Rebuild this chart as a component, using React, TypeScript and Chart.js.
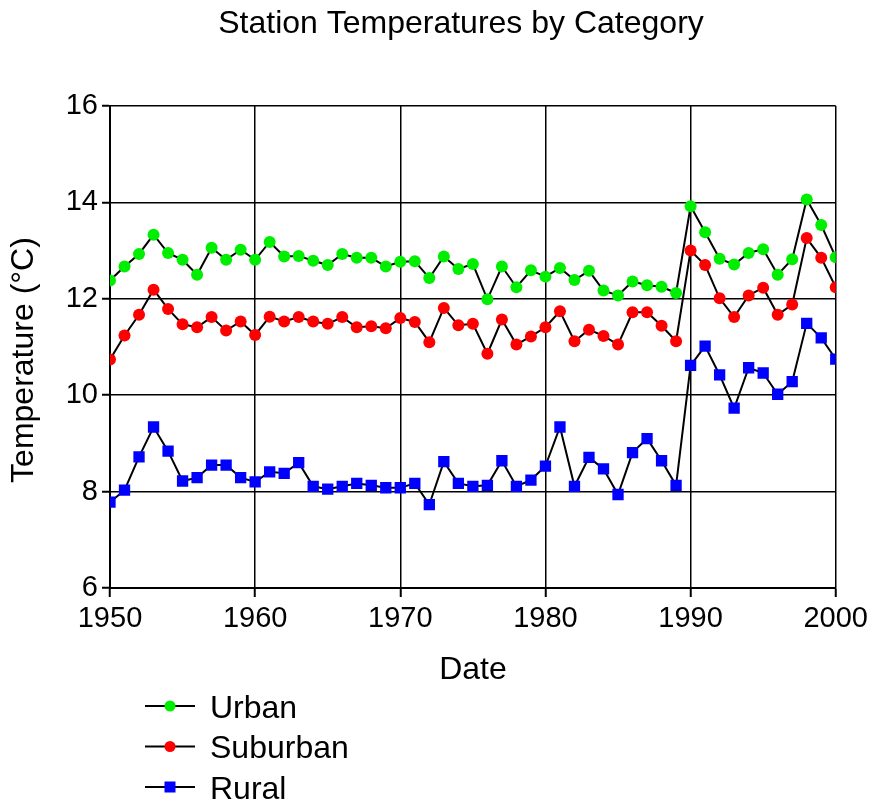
import React, { useEffect, useRef } from "react";
import { Chart, registerables } from "chart.js";

Chart.register(...registerables);

const years = [
  1950, 1951, 1952, 1953, 1954, 1955, 1956, 1957, 1958, 1959,
  1960, 1961, 1962, 1963, 1964, 1965, 1966, 1967, 1968, 1969,
  1970, 1971, 1972, 1973, 1974, 1975, 1976, 1977, 1978, 1979,
  1980, 1981, 1982, 1983, 1984, 1985, 1986, 1987, 1988, 1989,
  1990, 1991, 1992, 1993, 1994, 1995, 1996, 1997, 1998, 1999, 2000,
];

const urban = [
  12.38, 12.67, 12.93, 13.33, 12.95, 12.81, 12.5, 13.06, 12.81, 13.02,
  12.81, 13.18, 12.88, 12.89, 12.79, 12.7, 12.93, 12.85, 12.85, 12.67,
  12.77, 12.78, 12.43, 12.88, 12.62, 12.72, 11.99, 12.67, 12.24, 12.59,
  12.46, 12.64, 12.39, 12.58, 12.17, 12.07, 12.36, 12.28, 12.25, 12.12,
  13.92, 13.38, 12.83, 12.71, 12.95, 13.03, 12.5, 12.82, 14.06, 13.53, 12.86,
];

const suburban = [
  10.74, 11.24, 11.67, 12.19, 11.79, 11.47, 11.41, 11.62, 11.34, 11.53,
  11.25, 11.63, 11.53, 11.62, 11.53, 11.48, 11.62, 11.41, 11.43, 11.39,
  11.6, 11.52, 11.1, 11.81, 11.45, 11.48, 10.86, 11.57, 11.05, 11.22,
  11.41, 11.74, 11.12, 11.36, 11.23, 11.05, 11.72, 11.72, 11.44, 11.12,
  13.0, 12.7, 12.01, 11.62, 12.07, 12.23, 11.67, 11.88, 13.26, 12.85, 12.24,
];

const rural = [
  7.78, 8.03, 8.72, 9.34, 8.84, 8.22, 8.29, 8.55, 8.55, 8.29,
  8.2, 8.41, 8.38, 8.6, 8.11, 8.05, 8.11, 8.17, 8.13, 8.08,
  8.08, 8.17, 7.73, 8.62, 8.17, 8.11, 8.13, 8.64, 8.11, 8.24,
  8.53, 9.34, 8.11, 8.71, 8.47, 7.94, 8.81, 9.1, 8.64, 8.13,
  10.62, 11.02, 10.42, 9.73, 10.57, 10.46, 10.02, 10.28, 11.49, 11.19, 10.75,
];

const seriesNames = ["Urban", "Suburban", "Rural"];
const seriesColors = ["#00ee00", "#ff0000", "#0000ff"];
const seriesShapes = ["circle", "circle", "rect"];
const titleText = "Station Temperatures by Category";
const xTitle = "Date";
const yTitle = "Temperature (°C)";
const xTicks = [1950, 1960, 1970, 1980, 1990, 2000];
const yTicks = [6, 8, 10, 12, 14, 16];

const FONT = "'Liberation Sans', Arial, Helvetica, sans-serif";

const textPlugin = {
  id: "customText",
  afterDraw(chart: any) {
    const ctx = chart.ctx as CanvasRenderingContext2D;
    ctx.save();
    ctx.fillStyle = "#000";
    // title
    ctx.font = `32px ${FONT}`;
    ctx.textAlign = "center";
    ctx.textBaseline = "alphabetic";
    ctx.fillText(titleText, 461, 33);
    // x title
    ctx.font = `32px ${FONT}`;
    ctx.fillText(xTitle, 473, 679);
    // y title
    ctx.save();
    ctx.translate(33, 360);
    ctx.rotate(-Math.PI / 2);
    ctx.font = `32px ${FONT}`;
    ctx.textAlign = "center";
    ctx.fillText(yTitle, 0, 0);
    ctx.restore();
    // legend
    const rows = [706, 746.5, 787];
    seriesNames.forEach((name, i) => {
      const y = rows[i];
      ctx.strokeStyle = "#000";
      ctx.lineWidth = 2;
      ctx.beginPath();
      ctx.moveTo(145, y);
      ctx.lineTo(195, y);
      ctx.stroke();
      ctx.fillStyle = seriesColors[i];
      if (seriesShapes[i] === "rect") {
        ctx.fillRect(170 - 5.5, y - 5.5, 11, 11);
      } else {
        ctx.beginPath();
        ctx.arc(170, y, 5.5, 0, Math.PI * 2);
        ctx.fill();
      }
      ctx.fillStyle = "#000";
      ctx.font = `32px ${FONT}`;
      ctx.textAlign = "left";
      ctx.textBaseline = "alphabetic";
      ctx.fillText(name, 210, y + 11.5);
    });
    ctx.restore();
  },
};

export default function App() {
  const ref = useRef<HTMLCanvasElement | null>(null);

  useEffect(() => {
    if (!ref.current) return;
    const series = [urban, suburban, rural];
    const chart = new Chart(ref.current, {
      type: "line",
      data: {
        datasets: series.map((vals, i) => ({
          label: seriesNames[i],
          data: vals.map((v, j) => ({ x: years[j], y: v })),
          borderColor: "#000",
          borderWidth: 2,
          pointStyle: seriesShapes[i] as any,
          pointRadius: seriesShapes[i] === "rect" ? 8 : 6,
          pointBackgroundColor: seriesColors[i],
          pointBorderColor: seriesColors[i],
          pointBorderWidth: 0,
          tension: 0,
          fill: false,
        })),
      },
      options: {
        animation: false,
        responsive: false,
        maintainAspectRatio: false,
        layout: { padding: { top: 106, right: 36, bottom: 113, left: 0 } },
        plugins: {
          legend: { display: false },
          title: { display: false },
          tooltip: { enabled: false },
        },
        scales: {
          x: {
            type: "linear",
            min: 1950,
            max: 2000,
            afterFit: (s: any) => {
              s.height = 100;
            },
            afterBuildTicks: (s: any) => {
              s.ticks = xTicks.map((v) => ({ value: v }));
            },
            ticks: {
              color: "#000",
              font: { family: FONT, size: 29 },
              padding: 5,
              maxRotation: 0,
              callback: (v: any) => String(v),
            },
            grid: {
              color: "#000",
              lineWidth: 1.5,
              drawTicks: true,
              tickLength: 9,
              tickColor: "#000",
              tickWidth: 2,
            },
            border: { color: "#000", width: 2 },
          },
          y: {
            type: "linear",
            min: 6,
            max: 16,
            afterFit: (s: any) => {
              s.width = 110;
            },
            afterBuildTicks: (s: any) => {
              s.ticks = yTicks.map((v) => ({ value: v }));
            },
            ticks: {
              color: "#000",
              font: { family: FONT, size: 29 },
              padding: 4,
              callback: (v: any) => String(v),
            },
            grid: {
              color: "#000",
              lineWidth: 1.5,
              drawTicks: true,
              tickLength: 8,
              tickColor: "#000",
              tickWidth: 2,
            },
            border: { color: "#000", width: 2 },
          },
        },
      },
      plugins: [textPlugin],
    });
    return () => chart.destroy();
  }, []);

  return (
    <div style={{ position: "absolute", left: 0, top: 0, width: 873, height: 801, background: "#fff" }}>
      <canvas ref={ref} width={873} height={801} style={{ display: "block" }} />
    </div>
  );
}
